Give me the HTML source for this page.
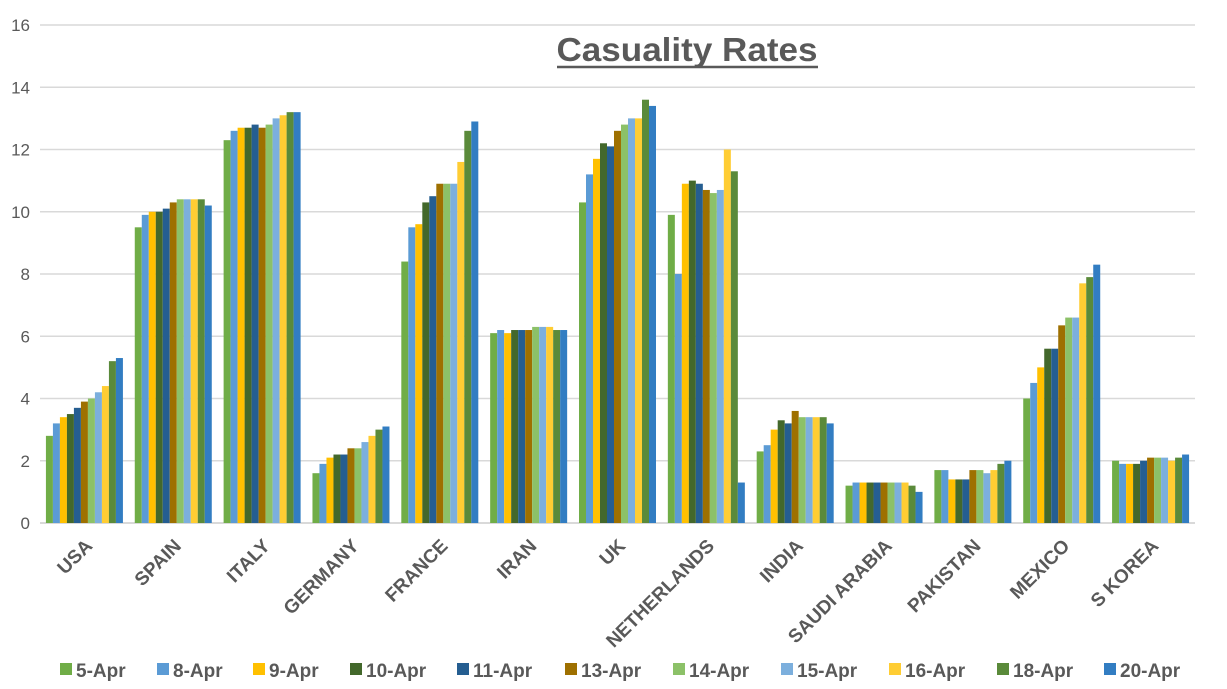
<!DOCTYPE html>
<html><head><meta charset="utf-8"><style>
body{margin:0;background:#fff;}
svg{display:block;font-family:"Liberation Sans",sans-serif;}
</style></head><body>
<svg id="c" width="1227" height="689" xmlns="http://www.w3.org/2000/svg"></svg>
<script>
const s=document.getElementById('c');
const NS='http://www.w3.org/2000/svg';
function el(t,a,txt){const e=document.createElementNS(NS,t);for(const k in a)e.setAttribute(k,a[k]);if(txt!==undefined)e.textContent=txt;s.appendChild(e);return e;}
const y0=523,k=31.125,x0=40,x1=1195;
for(let v=0;v<=16;v+=2){const y=y0-v*k;
 el('line',{x1:x0,x2:x1,y1:y,y2:y,stroke:'#d9d9d9','stroke-width':v==0?2:1.5});
 el('text',{x:30,y:y+6,'text-anchor':'end','font-size':17,fill:'#595959'},v);}
el('text',{x:687,y:61,'text-anchor':'middle','font-size':33,'font-weight':'bold',fill:'#595959',textLength:261,lengthAdjust:'spacingAndGlyphs'},'Casuality Rates');
el('line',{x1:557,x2:818,y1:67,y2:67,stroke:'#595959','stroke-width':2.5});
const cols=['#70AD47','#5B9BD5','#FFC000','#43682B','#255E91','#9E7000','#8CC168','#7CAFDD','#FFCD33','#5A8A3A','#327DC2'];
const names=['USA','SPAIN','ITALY','GERMANY','FRANCE','IRAN','UK','NETHERLANDS','INDIA','SAUDI ARABIA','PAKISTAN','MEXICO','S KOREA'];
const d=[[2.8,3.2,3.4,3.5,3.7,3.9,4.0,4.2,4.4,5.2,5.3],
[9.5,9.9,10.0,10.0,10.1,10.3,10.4,10.4,10.4,10.4,10.2],
[12.3,12.6,12.7,12.7,12.8,12.7,12.8,13.0,13.1,13.2,13.2],
[1.6,1.9,2.1,2.2,2.2,2.4,2.4,2.6,2.8,3.0,3.1],
[8.4,9.5,9.6,10.3,10.5,10.9,10.9,10.9,11.6,12.6,12.9],
[6.1,6.2,6.1,6.2,6.2,6.2,6.3,6.3,6.3,6.2,6.2],
[10.3,11.2,11.7,12.2,12.1,12.6,12.8,13.0,13.0,13.6,13.4],
[9.9,8.0,10.9,11.0,10.9,10.7,10.6,10.7,12.0,11.3,1.3],
[2.3,2.5,3.0,3.3,3.2,3.6,3.4,3.4,3.4,3.4,3.2],
[1.2,1.3,1.3,1.3,1.3,1.3,1.3,1.3,1.3,1.2,1.0],
[1.7,1.7,1.4,1.4,1.4,1.7,1.7,1.6,1.7,1.9,2.0],
[4.0,4.5,5.0,5.6,5.6,6.35,6.6,6.6,7.7,7.9,8.3],
[2.0,1.9,1.9,1.9,2.0,2.1,2.1,2.1,2.0,2.1,2.2]];
const pw=(x1-x0)/13;
d.forEach((r,i)=>{const cx=x0+pw*(i+0.5);const bx=cx-38.5;
 r.forEach((v,j)=>{el('rect',{x:bx+j*7,y:y0-v*k,width:7,height:v*k,fill:cols[j]});});
 el('text',{x:0,y:0,'text-anchor':'end','font-size':19,'font-weight':'bold',fill:'#595959',transform:`translate(${cx+9},${y0+24}) rotate(-45)`},names[i]);
});
const lg=['5-Apr','8-Apr','9-Apr','10-Apr','11-Apr','13-Apr','14-Apr','15-Apr','16-Apr','18-Apr','20-Apr'];
const lx=[60,157,253,350,457,565,673,781,889,997,1104];
lg.forEach((n,i)=>{el('rect',{x:lx[i],y:663,width:12,height:12,fill:cols[i]});
 el('text',{x:lx[i]+16,y:677,'font-size':19,'font-weight':'bold',fill:'#595959'},n);});
</script>
</body></html>
